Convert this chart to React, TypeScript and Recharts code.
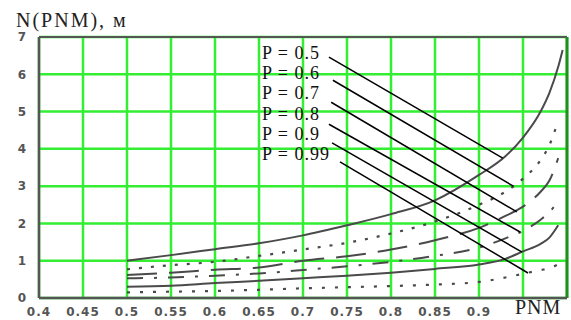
import React from 'react';
import { LineChart, Line, XAxis, YAxis, CartesianGrid, ReferenceLine } from 'recharts';

// PNM values along the x axis
const PNM = [0.5, 0.55, 0.6, 0.65, 0.7, 0.75, 0.8, 0.85, 0.9, 0.93, 0.95, 0.97, 0.98, 0.99, 0.995];

// N(PNM), m for each probability level P
const N_P05 = [1.0, 1.15, 1.31, 1.47, 1.68, 1.95, 2.25, 2.62, 3.3, 3.8, 4.3, 5.0, 5.5, 6.2, 6.65];
const N_P06 = [0.77, 0.88, 0.97, 1.13, 1.3, 1.48, 1.73, 2.05, 2.5, 2.85, 3.2, 3.7, 4.1, 4.75, null];
const N_P07 = [0.62, 0.68, 0.76, 0.82, 1.0, 1.12, 1.3, 1.55, 1.88, 2.2, 2.45, 2.85, 3.15, 3.75, null];
const N_P08 = [0.53, 0.55, 0.6, 0.66, 0.75, 0.85, 0.97, 1.13, 1.35, 1.6, 1.8, 2.1, 2.3, 2.6, null];
const N_P09 = [0.3, 0.33, 0.4, 0.46, 0.53, 0.6, 0.68, 0.78, 0.9, 1.05, 1.25, 1.45, 1.62, 1.95, null];
const N_P099 = [0.15, 0.17, 0.19, 0.22, 0.26, 0.29, 0.32, 0.36, 0.43, 0.55, 0.65, 0.75, 0.8, 0.9, null];

const X_TICKS = [0.4, 0.45, 0.5, 0.55, 0.6, 0.65, 0.7, 0.75, 0.8, 0.85, 0.9, 0.95];
const Y_TICKS = [0, 1, 2, 3, 4, 5, 6, 7];

const P_LABELS = ['P = 0.5', 'P = 0.6', 'P = 0.7', 'P = 0.8', 'P = 0.9', 'P = 0.99'];

// leader lines from the labels to each curve (data coords)
const LEADERS = [
  [{ x: 0.7295, y: 6.46 }, { x: 0.927, y: 3.75 }],
  [{ x: 0.734, y: 5.84 }, { x: 0.939, y: 3.0 }],
  [{ x: 0.732, y: 5.25 }, { x: 0.943, y: 2.31 }],
  [{ x: 0.7295, y: 4.66 }, { x: 0.9466, y: 1.77 }],
  [{ x: 0.733, y: 4.16 }, { x: 0.949, y: 1.23 }],
  [{ x: 0.742, y: 3.65 }, { x: 0.9557, y: 0.67 }],
];

const data = PNM.map((x, i) => ({
  x,
  p05: N_P05[i],
  p06: N_P06[i],
  p07: N_P07[i],
  p08: N_P08[i],
  p09: N_P09[i],
  p099: N_P099[i],
}));

const CURVE = '#4a4a4a';
const GRID = '#33ee33';
const serifStyle = { fontFamily: "'Liberation Serif', 'DejaVu Serif', serif" };
const tickStyle = { fontFamily: 'DejaVu Sans, sans-serif', fontSize: 12, fontWeight: 700, fill: '#555', letterSpacing: 1 };

export default function App() {
  return (
    <div style={{ position: 'absolute', left: 0, top: 0, width: 571, height: 320, background: '#fff', overflow: 'hidden' }}>
      <LineChart width={571} height={320} data={data} margin={{ top: 37, right: 4, left: 0, bottom: 0 }}>
        <CartesianGrid stroke={GRID} strokeWidth={2.5} />
        <XAxis
          dataKey="x"
          type="number"
          domain={[0.4, 1.0]}
          ticks={X_TICKS}
          interval={0}
          height={22}
          tickLine={false}
          tickMargin={3}
          axisLine={{ stroke: '#555', strokeWidth: 2.5 }}
          tick={tickStyle}
          tickFormatter={(v: number) => (v === 0.95 ? '' : String(v))}
        />
        <YAxis
          type="number"
          domain={[0, 7]}
          ticks={Y_TICKS}
          interval={0}
          width={39}
          tickLine={false}
          tickSize={0}
          tickMargin={12}
          axisLine={{ stroke: '#555', strokeWidth: 2.5 }}
          tick={tickStyle}
        />
        <ReferenceLine y={7} stroke="#555" strokeWidth={2} />
        <ReferenceLine x={1.0} stroke="#1f8f1f" strokeWidth={3} />
        <Line dataKey="p05" type="monotone" stroke={CURVE} strokeWidth={2} dot={false} isAnimationActive={false} />
        <Line dataKey="p06" type="monotone" stroke={CURVE} strokeWidth={2.2} strokeDasharray="3 9" dot={false} isAnimationActive={false} />
        <Line dataKey="p07" type="monotone" stroke={CURVE} strokeWidth={2} strokeDasharray="30 12" dot={false} isAnimationActive={false} />
        <Line dataKey="p08" type="monotone" stroke={CURVE} strokeWidth={2} strokeDasharray="16 11 3 11" dot={false} isAnimationActive={false} />
        <Line dataKey="p09" type="monotone" stroke={CURVE} strokeWidth={2} dot={false} isAnimationActive={false} />
        <Line dataKey="p099" type="monotone" stroke={CURVE} strokeWidth={2.2} strokeDasharray="3 10" dot={false} isAnimationActive={false} />
        {LEADERS.map((seg, i) => (
          <ReferenceLine key={i} segment={seg} stroke="#000" strokeWidth={1.5} />
        ))}
      </LineChart>
      <svg width={571} height={320} style={{ position: 'absolute', left: 0, top: 0, pointerEvents: 'none' }}>
        <text x={16} y={27} style={serifStyle} fontSize={20} fill="#222" letterSpacing={2}>
          N(PNM), м
        </text>
        {P_LABELS.map((t, i) => (
          <text key={t} x={262} y={59 + i * 20.2} style={serifStyle} fontSize={18} fill="#111" letterSpacing={1}>
            {t}
          </text>
        ))}
        <text x={515} y={314} style={serifStyle} fontSize={20} fill="#222" letterSpacing={1}>
          PNM
        </text>
      </svg>
    </div>
  );
}
